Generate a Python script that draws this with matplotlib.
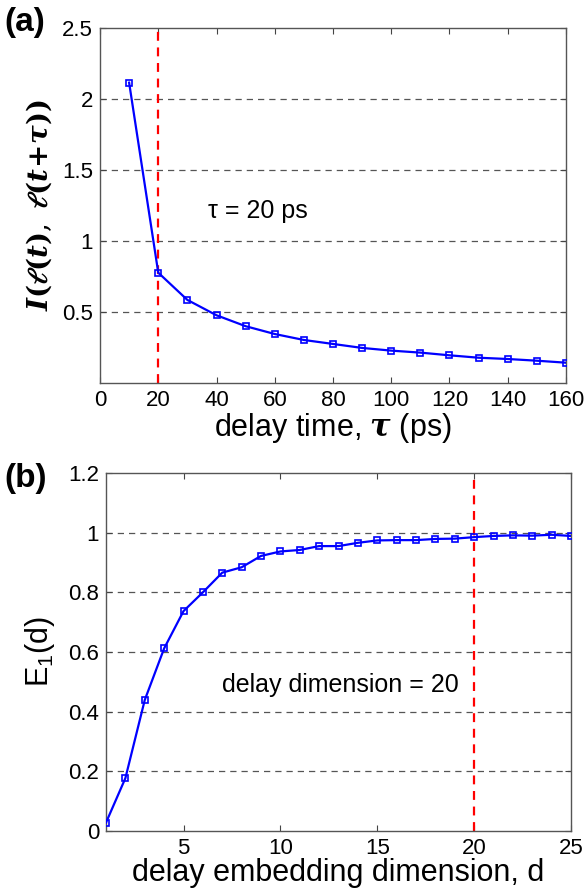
import matplotlib
matplotlib.use("Agg")
import matplotlib.pyplot as plt

# mutual information vs delay time
delay_ps = [10, 20, 30, 40, 50, 60, 70, 80, 90, 100, 110, 120, 130, 140, 150, 160]
mutual_info = [2.115, 0.777, 0.585, 0.477, 0.400, 0.345, 0.303, 0.275, 0.247,
               0.228, 0.214, 0.195, 0.178, 0.169, 0.157, 0.143]

# Cao's E1 vs embedding dimension
embed_dim = list(range(1, 26))
e1_vals = [0.028, 0.177, 0.439, 0.612, 0.737, 0.800, 0.866, 0.884, 0.922, 0.937,
           0.942, 0.955, 0.955, 0.966, 0.974, 0.975, 0.975, 0.979, 0.980, 0.985,
           0.989, 0.991, 0.990, 0.993, 0.989]

tau_choice = 20
dim_choice = 20

plt.rcParams['font.family'] = ['Liberation Sans', 'DejaVu Sans']
plt.rcParams['mathtext.fontset'] = 'dejavuserif'

fig = plt.figure(figsize=(5.85, 8.91), dpi=100)
ax1 = fig.add_axes([100 / 585, 1 - 383 / 891, 466 / 585, 355 / 891])
ax2 = fig.add_axes([106 / 585, 1 - 831 / 891, 465 / 585, 358 / 891])


def style_axes(ax):
    ax.tick_params(direction='in', top=True, right=True, labelsize=16,
                   length=4, color='#444444', pad=5)
    for s in ax.spines.values():
        s.set_color('#555555')
        s.set_linewidth(1.0)


# (a)
ax1.plot(delay_ps, mutual_info, '-s', color='#0000ff', lw=1.6, ms=5,
         mfc='none', mec='#0000ff', mew=1.2, zorder=3)
ax1.axvline(tau_choice, color='red', ls=(0, (4, 3)), lw=1.6, zorder=2)
ax1.set_xlim(0, 160)
ax1.set_ylim(0, 2.5)
ax1.set_xticks(range(0, 161, 20))
ax1.set_yticks([0.5, 1, 1.5, 2, 2.5])
ax1.set_yticklabels(['0.5', '1', '1.5', '2', '2.5'])
for g in [0.5, 1, 1.5, 2]:
    ax1.axhline(g, color='#555555', ls=(0, (5, 4)), lw=0.9, zorder=1)
style_axes(ax1)
ax1.set_xlabel(r'delay time, $\boldsymbol{\tau}$ (ps)', fontsize=22, labelpad=0)
ax1.set_ylabel(r'$\boldsymbol{I(\ell(t),\ \ell(t\!+\!\tau))}$', fontsize=20,
               labelpad=6)
ax1.text(37, 1.21, '\u03c4 = 20 ps', fontsize=18, va='center')
fig.text(0.008, 1 - 22 / 891, '(a)', fontsize=24, weight='bold', va='center')

# (b)
ax2.plot(embed_dim, e1_vals, '-s', color='#0000ff', lw=1.6, ms=5,
         mfc='none', mec='#0000ff', mew=1.2, zorder=3)
ax2.axvline(dim_choice, color='red', ls=(0, (4, 3)), lw=1.6, zorder=2)
ax2.set_xlim(1, 25)
ax2.set_ylim(0, 1.2)
ax2.set_xticks([5, 10, 15, 20, 25])
ax2.set_yticks([0, 0.2, 0.4, 0.6, 0.8, 1, 1.2])
ax2.set_yticklabels(['0', '0.2', '0.4', '0.6', '0.8', '1', '1.2'])
for g in [0.2, 0.4, 0.6, 0.8, 1.0]:
    ax2.axhline(g, color='#555555', ls=(0, (5, 4)), lw=0.9, zorder=1)
style_axes(ax2)
ax2.set_xlabel('delay embedding dimension, d', fontsize=22, labelpad=-1)
ax2.set_ylabel('E$_\\mathregular{1}$(d)', fontsize=22, labelpad=8)
ax2.text(7.0, 0.49, 'delay dimension = 20', fontsize=18, va='center')
fig.text(0.008, 1 - 478 / 891, '(b)', fontsize=24, weight='bold', va='center')

fig.savefig('out.png', dpi=100)
